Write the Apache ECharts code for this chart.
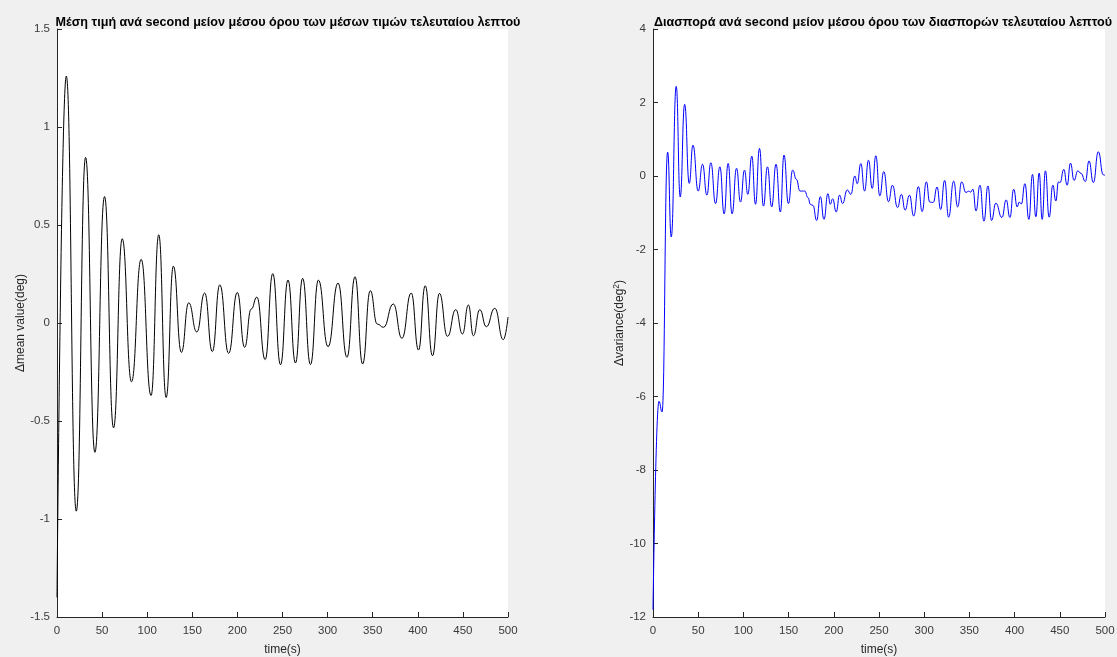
<!DOCTYPE html>
<html>
<head>
<meta charset="utf-8">
<script src="https://cdn.jsdelivr.net/npm/echarts@6/dist/echarts.min.js"></script>
<style>
  html, body { margin: 0; padding: 0; background: #f0f0f0; }
  #chart { width: 1117px; height: 657px; }
</style>
</head>
<body>
<div id="chart"></div>
<script>
// Time ticks shared by both panels
const timeTicks = [0, 50, 100, 150, 200, 250, 300, 350, 400, 450, 500];

// Per-second mean minus the last-minute mean of means (turning points of the trace)
const meanTime = [0, 10.3, 21.4, 31.7, 42, 52.7, 62.7, 72.3, 82.6, 93.3, 104.3, 112.8, 121, 129,
  137.9, 146, 155, 163.7, 172.2, 180.5, 190.3, 199.9, 208, 215.3, 221.6, 230.8, 239.2, 247.8,
  256.1, 264.4, 272.3, 281, 289.8, 300.5, 311.6, 321.5, 330.4, 338.8, 347.3, 355, 362, 372.8,
  382.4, 392.7, 400.8, 408.2, 416.3, 424, 432.9, 442.1, 449.5, 456.1, 461.6, 468.7, 476, 485.3,
  494.8, 500];
const meanDelta = [-1.40, 1.26, -0.96, 0.845, -0.66, 0.645, -0.535, 0.43, -0.30, 0.325, -0.37, 0.45, -0.38, 0.29,
  -0.15, 0.103, -0.046, 0.153, -0.146, 0.195, -0.155, 0.156, -0.124, 0.071, 0.132, -0.187, 0.252, -0.213,
  0.219, -0.204, 0.228, -0.212, 0.219, -0.121, 0.204, -0.175, 0.236, -0.209, 0.165, -0.005, -0.022, 0.097,
  -0.078, 0.153, -0.138, 0.19, -0.167, 0.151, -0.068, 0.068, -0.056, 0.092, -0.065, 0.068, -0.019, 0.075,
  -0.085, 0.03];

// Per-second variance minus the last-minute mean of variances (turning points of the trace)
const varTime = [0, 6.6, 10, 16.2, 20.2, 25.7, 30.1, 35, 40.1, 44.2, 50, 54.8, 59.6, 64, 69.2, 74,
  78.7, 83.1, 87.5, 92.4, 96.8, 101.2, 104.9, 109.3, 113.4, 117.8, 122.2, 126.6, 131.3, 136.1,
  140.9, 144.9, 149.8, 154.5, 158.6, 162.6, 167.8, 171.5, 174.1, 177, 181, 185.1, 189.1, 193.5,
  196.1, 198.7, 202.7, 206.4, 209.7, 214.9, 218.9, 223.3, 225.9, 229.9, 234, 238.4, 242.5, 246.5,
  250.9, 255.3, 260.5, 264.9, 270.5, 274.8, 278.9, 283.7, 288.4, 293.6, 297.7, 302.4, 306.1, 310,
  314.2, 318.2, 322.6, 327, 332.6, 337, 341.4, 346.2, 349.2, 351.4, 353.9, 357.3, 361.7, 366.1,
  370.5, 374.5, 379.2, 386, 390.7, 394.8, 399, 402.9, 405.2, 407.5, 411.4, 415.8, 419.8, 423.5,
  427.2, 430.5, 434.1, 438.2, 442.3, 445.6, 448.5, 450.3, 454.4, 458.1, 461.8, 465.8, 469.9, 473.5,
  478.3, 482.3, 487.1, 492.6, 498.1, 500];
const varDelta = [-11.8, -6.13, -6.42, 0.65, -1.66, 2.44, -0.57, 1.95, -0.2, 0.84, -0.41, 0.32, -0.52, 0.36, -0.75, 0.25,
  -1.03, 0.34, -1.03, 0.21, -0.71, 0.16, -0.5, 0.54, -0.77, 0.75, -0.82, 0.25, -0.84, 0.32,
  -0.98, 0.57, -0.75, 0.16, -0.09, -0.41, -0.41, -0.59, -0.77, -0.8, -1.21, -0.56, -1.18, -0.48,
  -0.77, -0.62, -0.98, -0.52, -0.75, -0.38, -0.5, 0, -0.21, 0.34, -0.41, 0.43, -0.34, 0.55,
  -0.54, 0.12, -0.7, -0.25, -0.86, -0.5, -0.93, -0.52, -1.09, -0.29, -0.97, -0.16, -0.71, -0.72,
  -0.3, -0.91, -0.12, -1.12, -0.14, -0.84, -0.16, -0.45, -0.41, -0.44, -0.36, -0.95, -0.25, -1.23,
  -0.27, -1.21, -0.74, -1.13, -0.65, -1.13, -0.36, -0.84, -0.71, -0.76, -0.21, -1.18, 0.04, -1.11,
  0.08, -1.18, 0.14, -1.12, -0.25, -0.68, -0.16, -0.18, 0.18, -0.25, 0.35, -0.12, 0.14, 0.07,
  -0.15, 0.41, -0.18, 0.66, 0.03, 0.02];

const meanTicks = [-1.5, -1, -0.5, 0, 0.5, 1, 1.5];
const varTicks = [-12, -10, -8, -6, -4, -2, 0, 2, 4];

const FONT = '"Liberation Sans", Arial, Helvetica, sans-serif';
const INK = '#262626';
const LABEL = '#3a3a3a';

function pairs(xs, ys) { return xs.map((x, i) => [x, ys[i]]); }

function xAxisFor(gridIndex) {
  return {
    type: 'value', gridIndex,
    min: timeTicks[0], max: timeTicks[timeTicks.length - 1], interval: timeTicks[1] - timeTicks[0],
    name: 'time(s)', nameLocation: 'middle', nameGap: 27,
    nameTextStyle: { fontFamily: FONT, fontSize: 12, color: INK },
    axisLine: { onZero: false, lineStyle: { color: INK, width: 1 } },
    axisTick: { inside: true, length: 5, lineStyle: { color: INK } },
    axisLabel: { fontFamily: FONT, fontSize: 11.5, color: LABEL, margin: 8 },
    splitLine: { show: false }
  };
}

function yAxisFor(gridIndex, ticks, name, gap, rich) {
  return {
    type: 'value', gridIndex,
    min: ticks[0], max: ticks[ticks.length - 1], interval: ticks[1] - ticks[0],
    name, nameLocation: 'middle', nameGap: gap,
    nameTextStyle: Object.assign({ fontFamily: FONT, fontSize: 12, color: INK }, rich ? { rich } : {}),
    axisLine: { onZero: false, lineStyle: { color: INK, width: 1 } },
    axisTick: { inside: true, length: 5, lineStyle: { color: INK } },
    axisLabel: { fontFamily: FONT, fontSize: 11.5, color: LABEL, margin: 7 },
    splitLine: { show: false }
  };
}

const chart = echarts.init(document.getElementById('chart'), null, { renderer: 'canvas' });
chart.setOption({
  backgroundColor: '#f0f0f0',
  animation: false,
  title: [
    {
      text: 'Μέση τιμή ανά second μείον μέσου όρου των μέσων τιμών τελευταίου λεπτού',
      left: 283, top: 11, textAlign: 'center',
      textStyle: { fontFamily: FONT, fontSize: 12.6, fontWeight: 'bold', color: '#000' }
    },
    {
      text: 'Διασπορά ανά second μείον μέσου όρου των διασπορών τελευταίου λεπτού',
      left: 878, top: 11, textAlign: 'center',
      textStyle: { fontFamily: FONT, fontSize: 12.6, fontWeight: 'bold', color: '#000' }
    }
  ],
  grid: [
    { left: 57, top: 29, width: 451, height: 588, show: true, backgroundColor: '#fff', borderWidth: 0,
      outerBoundsMode: 'none', containLabel: false },
    { left: 653, top: 29, width: 452, height: 588, show: true, backgroundColor: '#fff', borderWidth: 0,
      outerBoundsMode: 'none', containLabel: false }
  ],
  xAxis: [xAxisFor(0), xAxisFor(1)],
  yAxis: [
    yAxisFor(0, meanTicks, 'Δmean value(deg)', 26),
    yAxisFor(1, varTicks, 'Δvariance(deg{sup|2})', 21, {
      sup: { fontFamily: FONT, fontSize: 8.5, color: INK, verticalAlign: 'top', padding: [0, 0, 6, 0] }
    })
  ],
  series: [
    {
      type: 'line', xAxisIndex: 0, yAxisIndex: 0,
      data: pairs(meanTime, meanDelta),
      smooth: 0.5, smoothMonotone: 'x', showSymbol: false,
      lineStyle: { color: '#000', width: 1 }
    },
    {
      type: 'line', xAxisIndex: 1, yAxisIndex: 1,
      data: pairs(varTime, varDelta),
      smooth: 0.5, smoothMonotone: 'x', showSymbol: false,
      lineStyle: { color: '#0000ff', width: 1 }
    }
  ]
});
</script>
</body>
</html>
